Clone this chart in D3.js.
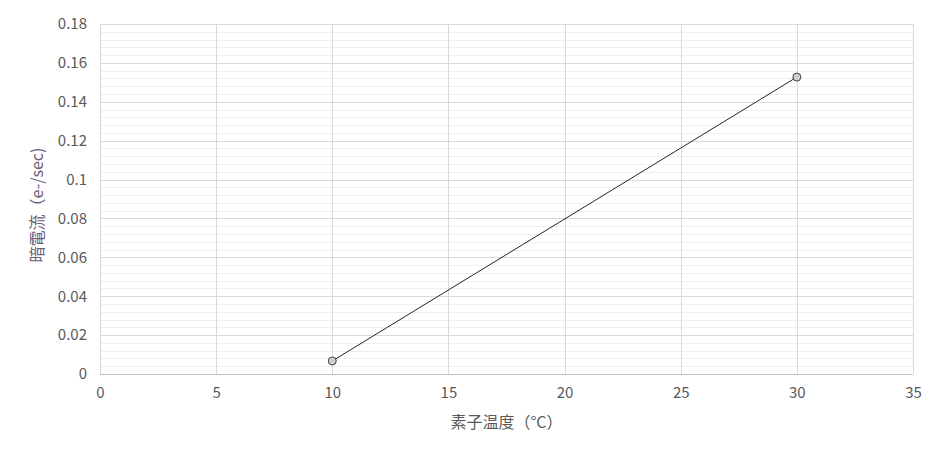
<!DOCTYPE html>
<html>
<head>
<meta charset="utf-8">
<script src="https://cdn.jsdelivr.net/npm/d3@7"></script>
<style>
  body { margin: 0; background: #fff; }
  svg text { font-family: "Noto Sans CJK JP", "Noto Sans", sans-serif; }
</style>
</head>
<body>
<div id="chart"></div>
<script>
// data
const temps = [10, 30];
const darkCurrent = [0.0067, 0.1527];
const xTicks = [0, 5, 10, 15, 20, 25, 30, 35];
const yTicks = [0, 0.02, 0.04, 0.06, 0.08, 0.1, 0.12, 0.14, 0.16, 0.18];
const yMinorStep = 0.004;
const xTitle = '素子温度（°C）';
const yTitle = '暗電流（e-/sec)';

function renderChart() {
  const width = 945, height = 454, margin = {top:24, right:32, bottom:80, left:100};
  const svg = d3.select('#chart').append('svg').attr('width', width).attr('height', height);

  const x = d3.scaleLinear().domain([0, 35]).range([margin.left, width - margin.right]);
  const y = d3.scaleLinear().domain([0, 0.18]).range([height - margin.bottom, margin.top]);

  // minor horizontal grid
  const minor = d3.range(0, 0.18 + 1e-9, yMinorStep);
  svg.append('g').selectAll('line').data(minor).join('line')
    .attr('x1', x(0)).attr('x2', x(35))
    .attr('y1', d => Math.round(y(d)) + 0.5).attr('y2', d => Math.round(y(d)) + 0.5)
    .attr('stroke', '#efefef').attr('stroke-width', 1);

  // major horizontal grid
  svg.append('g').selectAll('line').data(yTicks).join('line')
    .attr('x1', x(0)).attr('x2', x(35))
    .attr('y1', d => Math.round(y(d)) + 0.5).attr('y2', d => Math.round(y(d)) + 0.5)
    .attr('stroke', '#d9d9d9').attr('stroke-width', 1);

  // vertical grid
  svg.append('g').selectAll('line').data(xTicks).join('line')
    .attr('x1', d => Math.round(x(d)) + 0.5).attr('x2', d => Math.round(x(d)) + 0.5)
    .attr('y1', y(0.18)).attr('y2', y(0))
    .attr('stroke', '#d9d9d9').attr('stroke-width', 1);

  // x axis line
  svg.append('line')
    .attr('x1', x(0)).attr('x2', x(35))
    .attr('y1', Math.round(y(0)) + 0.5).attr('y2', Math.round(y(0)) + 0.5)
    .attr('stroke', '#bfbfbf');

  // tick labels via axes, lines hidden
  const xAxis = svg.append('g').attr('transform', `translate(0,${y(0)})`)
    .call(d3.axisBottom(x).tickValues(xTicks).tickSize(0).tickPadding(13).tickFormat(d3.format('d')));
  const yAxis = svg.append('g').attr('transform', `translate(${x(0)},0)`)
    .call(d3.axisLeft(y).tickValues(yTicks).tickSize(0).tickPadding(13).tickFormat(d => d === 0 ? '0' : String(+d.toFixed(2))));
  [xAxis, yAxis].forEach(g => {
    g.select('.domain').remove();
    g.selectAll('text').attr('fill', '#595959').style('font-size', '15px');
  });

  // line + markers
  const pts = temps.map((t, i) => ({t, v: darkCurrent[i]}));
  svg.append('path').datum(pts)
    .attr('d', d3.line().x(d => x(d.t)).y(d => y(d.v)))
    .attr('fill', 'none').attr('stroke', '#262626').attr('stroke-width', 1);
  svg.append('g').selectAll('circle').data(pts).join('circle')
    .attr('cx', d => x(d.t)).attr('cy', d => y(d.v)).attr('r', 4)
    .attr('fill', '#d0d0d0').attr('stroke', '#404040').attr('stroke-width', 1);

  // titles
  svg.append('text').attr('x', (x(0) + x(35)) / 2).attr('y', 428)
    .attr('text-anchor', 'middle').attr('fill', '#595959').style('font-size', '16px')
    .text(xTitle);
  svg.append('text').attr('transform', `translate(43,${(y(0) + y(0.18)) / 2 + 6}) rotate(-90)`)
    .attr('text-anchor', 'middle').attr('fill', '#6e5a74').style('font-size', '16px')
    .text(yTitle);
}

renderChart();
</script>
</body>
</html>
